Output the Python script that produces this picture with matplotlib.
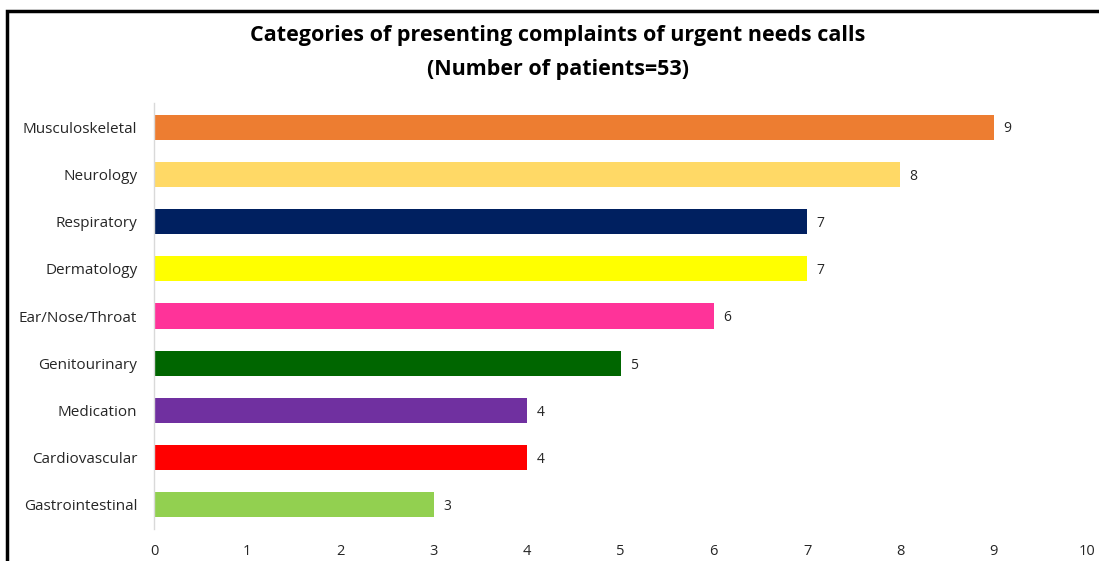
import matplotlib.pyplot as plt
from matplotlib.patches import Rectangle

# bars listed bottom to top
categories = ["Gastrointestinal", "Cardiovascular", "Medication", "Genitourinary",
              "Ear/Nose/Throat", "Dermatology", "Respiratory", "Neurology",
              "Musculoskeletal"]
counts = [3, 4, 4, 5, 6, 7, 7, 8, 9]
colors = ["#92D050", "#FF0000", "#7030A0", "#006600", "#FF3399",
          "#FFFF00", "#002060", "#FFD966", "#ED7D31"]
xticks = list(range(0, 11))

plt.rcParams['font.family'] = ['Open Sans', 'DejaVu Sans']

fig = plt.figure(figsize=(10.99, 5.61), dpi=100)
ax = fig.add_axes([154 / 1099, 1 - 528.6 / 561, (1087 - 154) / 1099, (528.6 - 103.4) / 561])

pos = range(len(categories))
ax.barh(pos, counts, height=0.53, color=colors)
for y, v in zip(pos, counts):
    ax.text(v + 0.1, y - 0.04, str(v), va='center', ha='left', fontsize=10, color='#262626')

ax.set_xlim(0, 10)
ax.set_ylim(-0.5, len(categories) - 0.5)
ax.set_yticks(list(pos))
ax.set_yticklabels(categories, fontsize=11, color='#262626')
ax.set_xticks(xticks)
ax.set_xticklabels([str(t) for t in xticks], fontsize=10.5, color='#262626')
ax.tick_params(axis='both', length=0)
ax.tick_params(axis='y', pad=12)
ax.tick_params(axis='x', pad=11)
for s in ['top', 'right', 'bottom']:
    ax.spines[s].set_visible(False)
ax.spines['left'].set_color('#D9D9D9')
ax.spines['left'].set_linewidth(1)

fig.text(558 / 1099, 1 - 35 / 561, "Categories of presenting complaints of urgent needs calls",
         ha='center', va='center', fontsize=15.5, fontweight='bold')
fig.text(558 / 1099, 1 - 70 / 561, "(Number of patients=53)",
         ha='center', va='center', fontsize=15.5, fontweight='bold')

# frame around the chart area
fig.patches.append(Rectangle((7 / 1099, -0.1), 1.2, 1 - 11 / 561 + 0.1,
                             transform=fig.transFigure, fill=False,
                             edgecolor='black', linewidth=2.5))

fig.savefig("out.png", dpi=100)
